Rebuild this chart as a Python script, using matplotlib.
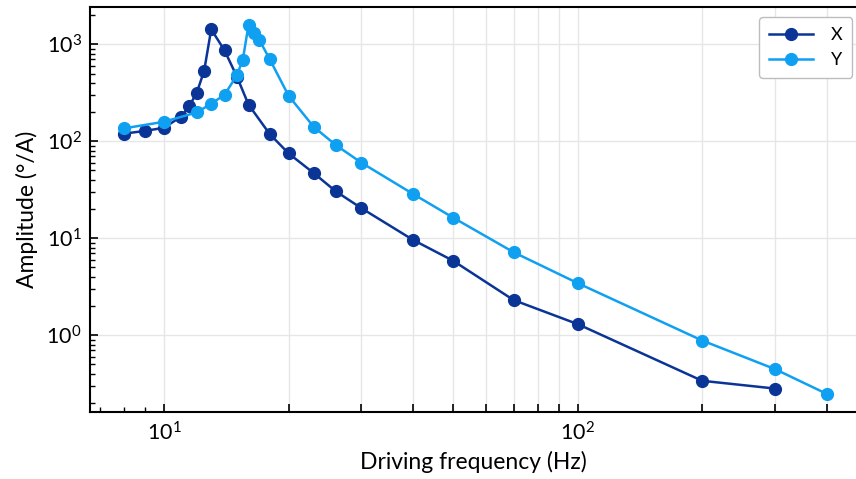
import matplotlib
matplotlib.use('Agg')
import matplotlib.pyplot as plt
import matplotlib.ticker as mticker

plt.rcParams.update({
    'font.family': ['Lato', 'DejaVu Sans'],
    'mathtext.fontset': 'custom',
    'mathtext.rm': 'Lato',
    'mathtext.it': 'Lato:italic',
    'font.size': 12,
})

# ── data ──
freq_x = [8, 9, 10, 11, 11.5, 12, 12.5, 13, 14, 15, 16, 18, 20, 23, 26, 30,
          40, 50, 70, 100, 200, 300]
amp_x = [120, 128, 138, 180, 230, 318, 535, 1430, 867, 465, 239, 119, 75,
         47, 30.5, 20.4, 9.6, 5.85, 2.3, 1.3, 0.338, 0.281]

freq_y = [8, 10, 12, 13, 14, 15, 15.5, 16, 16.5, 17, 18, 20, 23, 26, 30,
          40, 50, 70, 100, 200, 300, 400]
amp_y = [136, 159, 199, 244, 302, 480, 695, 1580, 1300, 1107, 705, 295,
         141, 91.6, 60.1, 28.6, 16.3, 7.17, 3.44, 0.88, 0.446, 0.248]

labels = ['X', 'Y']
colors = ['#0a3597', '#10a0f2']

fig = plt.figure(figsize=(8.56, 4.79), dpi=100)
ax = fig.add_axes([90/856, 1 - 412/479, 1 - 90/856, (412 - 7)/479])

ax.plot(freq_x, amp_x, '-o', color=colors[0], lw=1.8, ms=8.5, label=labels[0])
ax.plot(freq_y, amp_y, '-o', color=colors[1], lw=1.8, ms=8.5, label=labels[1])

ax.set_xscale('log')
ax.set_yscale('log')
ax.set_xlim(6.62, 471)
ax.set_ylim(0.161, 2430)

# x ticks: grid at 10..100, 200.., labels only on decades
xt = [10, 20, 30, 40, 50, 60, 70, 80, 90, 100, 200, 300, 400]
ax.xaxis.set_major_locator(mticker.FixedLocator(xt))
ax.xaxis.set_major_formatter(mticker.FixedFormatter(
    [r'$10^{1}$' if v == 10 else (r'$10^{2}$' if v == 100 else '') for v in xt]))
ax.xaxis.set_minor_locator(mticker.FixedLocator([7, 8, 9]))
ax.xaxis.set_minor_formatter(mticker.NullFormatter())

ax.yaxis.set_major_locator(mticker.LogLocator(base=10, numticks=10))
ax.yaxis.set_major_formatter(mticker.LogFormatterMathtext())
ax.yaxis.set_minor_locator(mticker.LogLocator(base=10, subs=range(2, 10), numticks=20))
ax.yaxis.set_minor_formatter(mticker.NullFormatter())

ax.tick_params(which='major', direction='in', length=6, width=1.2,
               labelsize=15.5, top=False, right=False)
ax.tick_params(which='minor', direction='in', length=3.5, width=1.0,
               top=False, right=False)
ax.tick_params(axis='x', which='major', pad=7)
ax.tick_params(axis='y', which='major', pad=6)

ax.grid(True, which='major', color='#e6e6e6', lw=1.0)
ax.set_axisbelow(True)
for side in ['left', 'bottom', 'top']:
    ax.spines[side].set_linewidth(1.5)
ax.spines['right'].set_visible(False)

ax.set_xlabel('Driving frequency (Hz)', fontsize=16.5, labelpad=4)
ax.set_ylabel('Amplitude (°/A)', fontsize=16.5, labelpad=6)

leg = ax.legend(loc='upper right', bbox_to_anchor=(0.995, 0.975), fontsize=13,
                handlelength=2.4, handletextpad=1.0, frameon=True, fancybox=True,
                borderaxespad=0, edgecolor='#bdbdbd', framealpha=1, borderpad=0.55)
leg.get_frame().set_linewidth(1.0)

plt.savefig('out.png', dpi=100)
